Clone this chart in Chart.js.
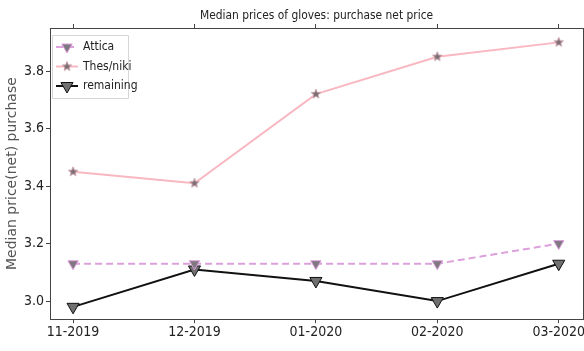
<!DOCTYPE html>
<html>
<head>
<meta charset="utf-8">
<script src="https://cdn.jsdelivr.net/npm/chart.js@4/dist/chart.umd.min.js"></script>
<style>
  html, body { margin: 0; padding: 0; background: #fff; }
  #wrap { width: 584px; height: 351px; }
</style>
</head>
<body>
<div id="wrap"><canvas id="gloveChart"></canvas></div>
<script>
var months = ["11-2019", "12-2019", "01-2020", "02-2020", "03-2020"];
var attica = [3.13, 3.13, 3.13, 3.13, 3.20];
var thesniki = [3.45, 3.41, 3.72, 3.85, 3.90];
var remaining = [2.98, 3.11, 3.07, 3.00, 3.13];
var yTicks = [3.0, 3.2, 3.4, 3.6, 3.8];
var chartTitle = "Median prices of gloves: purchase net price";

function pts(arr) {
    return arr.map(function (v, i) { return { x: i, y: v }; });
}

var narrow = "'DejaVu Sans Condensed', 'DejaVu Sans', sans-serif";

// filled five point star marker, like matplotlib '*'
function starMarker(r, fill, edge) {
    var c = document.createElement('canvas');
    var s = Math.ceil(r * 2 + 2);
    c.width = s;
    c.height = s;
    var g = c.getContext('2d');
    g.beginPath();
    for (var i = 0; i < 10; i++) {
        var rr = i % 2 === 0 ? r : r * 0.42;
        var ang = -Math.PI / 2 + i * Math.PI / 5;
        var px = s / 2 + rr * Math.cos(ang), py = s / 2 + rr * Math.sin(ang);
        if (i === 0) g.moveTo(px, py); else g.lineTo(px, py);
    }
    g.closePath();
    g.fillStyle = fill;
    g.fill();
    g.strokeStyle = edge;
    g.lineWidth = 0.8;
    g.stroke();
    return c;
}
var star = starMarker(5, '#7d6e74', '#c59aa4');

// title centred over the axes and legend box in upper left
var axesDecor = {
    id: 'axesDecor',
    afterDraw: function (chart) {
        var ctx = chart.ctx;
        var a = chart.chartArea;
        ctx.save();
        ctx.fillStyle = '#222';
        ctx.font = "12.5px " + narrow;
        ctx.textAlign = 'center';
        ctx.textBaseline = 'alphabetic';
        ctx.save();
        ctx.translate((a.left + a.right) / 2, 19);
        ctx.scale(0.95, 1.05);
        ctx.fillText(chartTitle, 0, 0);
        ctx.restore();

        var x0 = a.left + 2, y0 = a.top + 7;
        var w = 76, h = 63;
        ctx.fillStyle = 'rgba(255,255,255,0.85)';
        ctx.strokeStyle = '#d6d6d6';
        ctx.lineWidth = 1;
        ctx.beginPath();
        ctx.rect(x0 + 0.5, y0 + 0.5, w, h);
        ctx.fill();
        ctx.stroke();
        chart.data.datasets.forEach(function (ds, i) {
            var cy = y0 + 12 + i * 19.5;
            ctx.save();
            ctx.strokeStyle = ds.borderColor;
            ctx.lineWidth = ds.borderWidth;
            ctx.setLineDash(ds.borderDash || []);
            ctx.beginPath();
            ctx.moveTo(x0 + 4, cy);
            ctx.lineTo(x0 + 26, cy);
            ctx.stroke();
            ctx.restore();
            if (Chart.helpers && Chart.helpers.drawPoint) {
                ctx.save();
                ctx.fillStyle = ds.pointBackgroundColor;
                ctx.strokeStyle = ds.pointBorderColor;
                ctx.lineWidth = ds.pointBorderWidth;
                Chart.helpers.drawPoint(ctx, {
                    pointStyle: ds.pointStyle,
                    rotation: ds.pointRotation || 0,
                    radius: ds.pointRadius,
                    borderWidth: ds.pointBorderWidth
                }, x0 + 15, cy);
                ctx.restore();
            }
            ctx.fillStyle = '#222';
            ctx.font = "12px " + narrow;
            ctx.textAlign = 'left';
            ctx.textBaseline = 'middle';
            ctx.fillText(ds.label, x0 + 31, cy);
        });
        ctx.restore();
    }
};

function fixedTicks(vals) {
    return function (s) {
        s.ticks = vals.map(function (v) { return { value: v }; });
    };
}
var xIdx = months.map(function (m, i) { return i; });

new Chart(document.getElementById("gloveChart"), {
    type: 'line',
    data: {
        datasets: [{
                label: "Attica",
                data: pts(attica),
                borderColor: '#dda0dd',
                borderWidth: 2,
                borderDash: [7, 4],
                pointStyle: 'triangle',
                pointRotation: 180,
                pointRadius: 6,
                pointBackgroundColor: '#7f7880',
                pointBorderColor: '#dda0dd',
                pointBorderWidth: 1
            },
            {
                label: "Thes/niki",
                data: pts(thesniki),
                borderColor: '#f9b7c1',
                borderWidth: 2,
                pointStyle: star,
                pointRadius: 5,
                pointBackgroundColor: '#7d6e74',
                pointBorderColor: '#7d6e74',
                pointBorderWidth: 1
            },
            {
                label: "remaining",
                data: pts(remaining),
                borderColor: '#111111',
                borderWidth: 2,
                pointStyle: 'triangle',
                pointRotation: 180,
                pointRadius: 7,
                pointBackgroundColor: '#707070',
                pointBorderColor: '#111111',
                pointBorderWidth: 1
            }
        ]
    },
    options: {
        responsive: true,
        maintainAspectRatio: false,
        animation: false,
        layout: { autoPadding: false, padding: { top: 24, right: 1, left: 2, bottom: 9 } },
        plugins: {
            legend: { display: false },
            tooltip: { enabled: false },
            title: { display: false }
        },
        scales: {
            x: {
                type: 'linear',
                min: -0.19,
                max: 4.2,
                afterBuildTicks: fixedTicks(xIdx),
                afterFit: function (s) { s.paddingLeft = 0; s.paddingRight = 0; },
                ticks: {
                    color: '#222',
                    font: { family: narrow, size: 14 },
                    padding: 1,
                    maxRotation: 0,
                    autoSkip: false,
                    callback: function (v) { return months[v]; }
                },
                grid: { drawOnChartArea: false, tickLength: 4, color: '#444' },
                border: { color: '#444', width: 1 }
            },
            xTop: {
                type: 'linear',
                position: 'top',
                min: -0.19,
                max: 4.2,
                afterBuildTicks: fixedTicks(xIdx),
                afterFit: function (s) { s.height = 4; s.paddingLeft = 0; s.paddingRight = 0; },
                ticks: { display: false },
                grid: { drawOnChartArea: false, tickLength: 4, color: '#444' },
                border: { color: '#444', width: 1 }
            },
            y: {
                min: 2.937,
                max: 3.95,
                afterBuildTicks: fixedTicks(yTicks),
                afterFit: function (s) { s.width = 48; },
                ticks: {
                    color: '#222',
                    font: { family: narrow, size: 14 },
                    padding: 2,
                    callback: function (v) { return v.toFixed(1); }
                },
                grid: { drawOnChartArea: false, tickLength: 4, color: '#444' },
                border: { color: '#444', width: 1 },
                title: {
                    display: true,
                    text: "Median price(net) purchase",
                    color: '#555',
                    font: { family: "'DejaVu Sans', sans-serif", size: 14 },
                    padding: { top: 2, bottom: 4 }
                }
            },
            yRight: {
                position: 'right',
                min: 2.937,
                max: 3.95,
                afterBuildTicks: fixedTicks(yTicks),
                afterFit: function (s) { s.width = 0; },
                ticks: { display: false },
                grid: { drawOnChartArea: false, drawTicks: false, color: '#444' },
                border: { color: '#444', width: 1 }
            }
        }
    },
    plugins: [axesDecor]
});
</script>
</body>
</html>
